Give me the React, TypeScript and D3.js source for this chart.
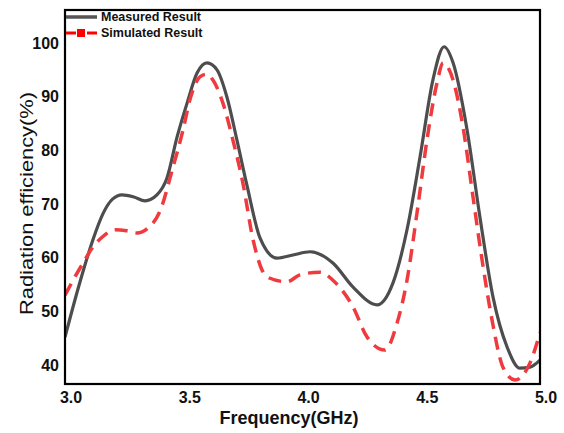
import React from "react";
import * as d3 from "d3";

const measuredFreq = [3.0, 3.06, 3.118, 3.16, 3.2, 3.24, 3.29, 3.337, 3.387, 3.429, 3.472, 3.514, 3.556, 3.598, 3.64, 3.682, 3.724, 3.766, 3.821, 3.893, 3.96, 4.032, 4.128, 4.213, 4.314, 4.381, 4.44, 4.495, 4.549, 4.596, 4.634, 4.693, 4.747, 4.802, 4.861, 4.916, 4.958, 5.0];
const measuredEff = [45.2, 55.0, 63.4, 68.2, 70.9, 71.7, 71.3, 70.6, 71.7, 74.8, 82.5, 88.8, 94.4, 96.3, 95.0, 89.9, 81.9, 73.5, 63.7, 59.9, 60.5, 61.1, 59.0, 54.5, 51.2, 55.3, 65.2, 78.8, 93.1, 99.3, 96.3, 83.8, 67.6, 52.7, 43.4, 39.4, 39.6, 40.9];

const simFreq = [3.0, 3.034, 3.076, 3.118, 3.156, 3.211, 3.26, 3.303, 3.349, 3.4, 3.455, 3.497, 3.526, 3.568, 3.598, 3.623, 3.665, 3.707, 3.749, 3.792, 3.851, 3.935, 3.989, 4.074, 4.128, 4.213, 4.272, 4.347, 4.398, 4.44, 4.482, 4.524, 4.566, 4.592, 4.634, 4.676, 4.718, 4.756, 4.798, 4.844, 4.895, 4.958, 5.0];
const simEff = [53.0, 55.8, 59.0, 62.0, 63.8, 65.2, 65.0, 64.6, 65.5, 68.7, 76.9, 83.8, 89.4, 93.7, 94.2, 93.1, 88.8, 81.9, 73.9, 63.3, 56.4, 55.5, 56.8, 57.3, 55.8, 50.8, 45.2, 42.8, 47.8, 55.8, 68.3, 81.9, 92.5, 96.3, 93.1, 84.3, 71.3, 59.6, 48.4, 39.6, 37.2, 40.4, 46.0];

const xTicks = [3.0, 3.5, 4.0, 4.5, 5.0];
const yTicks = [40, 50, 60, 70, 80, 90, 100];
const seriesNames = ["Measured Result", "Simulated Result"];

export default function App() {
  const W = 564, H = 433;
  const left = 65, right = 540, top = 10, bottom = 384;
  const x = d3.scaleLinear().domain([3, 5]).range([left, right]);
  const y = d3.scaleLinear().domain([40, 100]).range([365, 43]);

  const line = d3
    .line<[number, number]>()
    .x((d) => x(d[0]))
    .y((d) => y(d[1]))
    .curve(d3.curveMonotoneX);

  const measured = measuredFreq.map((f, i) => [f, measuredEff[i]] as [number, number]);
  const simulated = simFreq.map((f, i) => [f, simEff[i]] as [number, number]);

  const font = "Liberation Sans, Arial, sans-serif";
  const gray = "#4d4d4d";
  const red = "#ef3b3f";

  return (
    <svg width={W} height={H} style={{ position: "absolute", left: 0, top: 0, background: "#fff" }}>
      <defs>
        <clipPath id="plotClip">
          <rect x={left} y={top} width={right - left} height={bottom - top} />
        </clipPath>
      </defs>
      <g clipPath="url(#plotClip)">
        <path d={line(measured) || ""} fill="none" stroke={gray} strokeWidth={3.2} />
        <path d={line(simulated) || ""} fill="none" stroke={red} strokeWidth={3.5} strokeDasharray="13,8" />
      </g>
      <rect x={left} y={top} width={right - left} height={bottom - top} fill="none" stroke="#000" strokeWidth={2.2} />

      {yTicks.map((t) => (
        <text key={t} x={59} y={y(t)} textAnchor="end" dominantBaseline="central" fontFamily={font} fontWeight="bold" fontSize={16} fill="#111">
          {t}
        </text>
      ))}
      {xTicks.map((t) => (
        <text key={t} x={x(t) + 6} y={403} textAnchor="middle" fontFamily={font} fontWeight="bold" fontSize={16} fill="#111">
          {t.toFixed(1)}
        </text>
      ))}

      <text x={289} y={424} textAnchor="middle" fontFamily={font} fontWeight="bold" fontSize={18} fill="#111">
        Frequency(GHz)
      </text>
      <text
        transform={`translate(27,203.5) rotate(-90)`}
        textAnchor="middle"
        dominantBaseline="central"
        fontFamily={font}
        fontSize={18}
        textLength={223}
        lengthAdjust="spacingAndGlyphs"
        fill="#111"
      >
        Radiation efficiency(%)
      </text>

      {/* legend */}
      <line x1={66} x2={97} y1={17} y2={17} stroke="#555" strokeWidth={3.5} />
      <text x={101} y={17} dominantBaseline="central" fontFamily={font} fontWeight="bold" fontSize={12.5} fill="#111">
        {seriesNames[0]}
      </text>
      <line x1={66} x2={76} y1={33} y2={33} stroke="#f00" strokeWidth={3} />
      <line x1={87} x2={97} y1={33} y2={33} stroke="#f00" strokeWidth={3} />
      <rect x={77} y={29} width={8} height={8} fill="#f00" />
      <text x={101} y={33} dominantBaseline="central" fontFamily={font} fontWeight="bold" fontSize={12.5} fill="#111">
        {seriesNames[1]}
      </text>
    </svg>
  );
}
